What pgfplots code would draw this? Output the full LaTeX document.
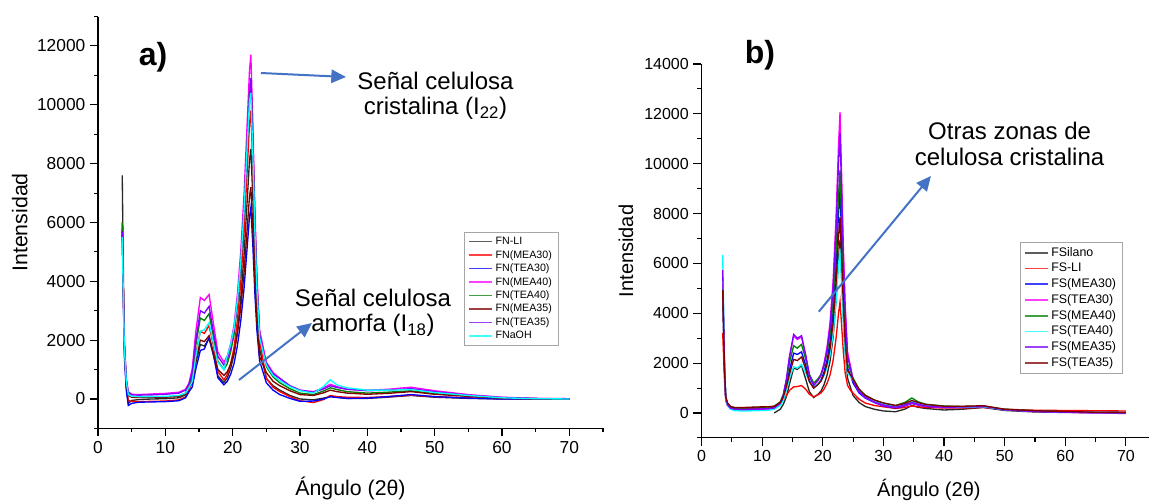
\documentclass[border=0pt]{standalone}
\usepackage{pgfplots}
\pgfplotsset{compat=1.18}
\usepackage{pgfplotstable}
\usepackage{fontspec}
\setmainfont{Liberation Sans}
\usetikzlibrary{arrows.meta}

\definecolor{cLI}{RGB}{40,40,40}
\definecolor{cRed}{RGB}{255,0,0}
\definecolor{cBlue}{RGB}{0,0,255}
\definecolor{cMag}{RGB}{255,0,255}
\definecolor{cGreen}{RGB}{0,128,0}
\definecolor{cWine}{RGB}{128,0,0}
\definecolor{cViolet}{RGB}{128,0,255}
\definecolor{cCyan}{RGB}{0,255,255}
\definecolor{arrowblue}{RGB}{68,114,196}

% panel a) fibras naturales
\pgfplotstableread{
x     LI    M30   T30   M40   T40   M35   T35   NaOH
3.6   7600  6000  5800  5600  6000  5700  5700  5500
3.9   1800  1900  1500  2000  1900  1800  2000  1800
4.2   400   500   300   700   600   550   650   600
4.5   -150  -50   -220  250   150   120   220   150
5     -50   -80   -150  160   80    60    140   90
6     -20   -90   -110  150   60    50    130   80
8     0     -80   -100  170   60    50    140   80
10    10    -70   -90   190   70    60    160   90
12    40    -30   -60   230   100   90    200   120
13    140   70    40    330   200   190   300   200
13.5  340   270   240   530   400   390   500   380
14    555   690   410   1035  825   600   900   600
14.5  1200  1495  990   2243  1788  1300  1950  1400
15.2  1850  2300  1650  3450  2750  2000  3000  2300
15.8  1800  2230  1700  3350  2670  1950  2920  2350
16.5  2050  2500  2100  3550  2900  2150  3150  2600
17.2  1435  1750  1470  2485  2030  1505  2205  1820
17.8  784   928   723   1595  1285  1003  1450  1240
18.7  560   650   480   1250  1000  800   1150  1000
19.2  719   833   600   1459  1198  928   1345  1470
19.7  1036  1199  841   1877  1594  1184  1735  1846
20.2  1513  1748  1202  2504  2188  1568  2320  2410
20.7  2307  2663  1804  3549  3178  2208  3295  3350
21.2  3418  3944  2647  5012  4564  3104  4660  4666
21.7  4927  5683  3791  7000  6445  4320  6513  6452
22.2  6912  7970  5296  9610  8920  5920  8950  8802
22.5  8103  9343  6199  11178 10405 6880  10413 10118
22.7  8500  9800  6500  11700 10900 7200  10900 10400
23.0  6800  7840  5200  9360  8720  5760  8720  8320
23.3  4675  5390  3575  6435  5995  3960  5995  5720
23.6  3060  3528  2340  4212  3924  2592  3924  3744
24.0  1700  1960  1300  2340  2180  1440  2180  2080
24.5  1200  1330  925   1795  1640  1170  1690  1615
25    700   700   550   1250  1100  900   1200  1150
26    450   400   300   900   750   600   850   800
27    300   250   150   700   550   450   700   620
28.5  120   80    20    450   350   280   450   420
30    0     -60   -80   300   200   150   300   280
32    -30   -120  -70   250   150   120   230   200
33.5  30    -20   0     380   270   210   340   420
34.5  80    120   80    500   380   300   450   650
35.5  60    80    50    420   320   250   390   480
37    20    60    20    330   250   200   330   380
40    20    50    30    300   200   160   280   300
43    60    80    80    330   230   190   300   300
46.5  120   130   150   400   280   250   350   320
50    60    80    80    280   180   160   250   220
55    20    40    30    150   100   90    130   120
60    0     10    0     60    30    30    50    40
65    0     0     0     20    10    10    20    10
70    0     0     0     0     0     0     10    0
}\tabA

% panel b) fibras silanizadas
\pgfplotstableread{
x     Sil   LI    M30   T30   M40   T40   M35   T35
3.5   nan   3200  4900  5200  5000  6340  5740  4930
3.8   nan   1300  1700  1800  1800  2000  1900  1700
4.0   nan   500   600   600   650   600   650   650
4.3   nan   300   330   320   380   300   330   400
4.8   nan   200   200   180   250   150   190   260
5.5   nan   180   150   130   200   90    150   220
7     nan   170   140   120   200   80    140   220
9     nan   190   150   140   220   90    150   240
11    nan   200   170   160   240   110   170   250
12    0     220   200   190   270   150   200   270
13    150   350   350   380   450   300   400   420
13.5  350   500   600   700   750   500   720   650
14    650   700   1100  1300  1300  900   1350  1050
14.5  1150  900   1700  2200  2000  1400  2250  1550
15.2  1800  1050  2400  3100  2700  1850  3150  2150
15.8  1750  1060  2350  2950  2600  1800  3000  2100
16.5  1900  1100  2450  3050  2750  1950  3100  2250
17.2  1350  950   1900  2300  2150  1600  2300  1750
17.8  850   750   1300  1500  1550  1250  1500  1250
18.5  620   650   1000  1100  1200  1050  1100  1000
19.2  746   726   1159  1319  1371  1161  1303  1137
19.7  873   802   1318  1539  1542  1272  1505  1274
20.2  1126  954   1636  1978  1884  1494  1910  1549
20.7  1505  1182  2113  2636  2397  1827  2518  1960
21.2  2074  1524  2829  3623  3167  2327  3430  2578
21.7  3022  2094  4021  5269  4449  3159  4949  3607
22.2  4538  3006  5929  7901  6501  4491  7381  5253
22.6  6182  3994  7996  10754 8724  5934  10014 7037
22.85 6940  4450  8950  12070 9750  6600  11230 7860
23.1  5552  3560  7160  9656  7800  5280  8984  6288
23.4  3817  2448  4923  6639  5363  3630  6177  4323
23.7  2498  1602  3222  4345  3510  2376  4043  2830
24.1  1388  1100  1790  2414  1950  1600  2246  1700
24.6  1000  900   1500  1850  1680  1450  1770  1520
25    700   800   1200  1300  1400  1300  1300  1350
26    420   550   800   850   950   900   850   950
27    260   400   600   620   720   650   630   700
28.5  150   300   420   430   520   460   440   520
30    80    250   280   300   400   350   320   400
32    50    180   200   220   300   250   230   300
33.5  150   220   280   300   420   340   320   380
34.7  300   280   380   400   600   450   420   500
35.7  230   250   320   330   450   380   350   420
37    180   220   260   270   350   300   280   340
40    120   200   220   220   280   250   230   270
43    150   200   220   230   260   240   240   270
46.5  220   220   250   260   280   250   270   290
50    100   150   130   130   150   130   130   150
55    40    110   70    60    90    70    60    90
60    20    100   40    30    50    40    30    60
65    10    90    30    0     20    20    10    30
70    10    80    20    -20   10    10    0     20
}\tabB

\pgfplotsset{
  xrd/.style={
    scale only axis,
    axis x line=bottom, axis y line=left,
    axis line style={-, line width=0.9pt},
    tick align=outside,
    tick style={black, line width=0.8pt},
    major tick length=6pt, minor tick length=3pt,
    xmin=0, xmax=75, ymin=-1000,
    xtick={0,10,...,70}, minor xtick={5,15,...,75},
    scaled y ticks=false, scaled x ticks=false,
    /pgf/number format/assume math mode=true,
    /pgf/number format/set thousands separator={},
    legend cell align=left,
    legend image post style={line width=1.3pt, opacity=0.75},
    every axis plot/.append style={line width=1pt},
  }
}

\begin{document}
\begin{tikzpicture}
\useasboundingbox (0,0) rectangle (861.75pt,375.75pt);

% ---------- a) ----------
\begin{axis}[xrd,
  at={(73.5pt,54.45pt)}, anchor=south west,
  width=378.75pt, height=308.9pt,
  ymax=13000,
  ytick={0,2000,...,12000}, minor ytick={-1000,1000,...,13000},
  ticklabel style={font=\fontsize{13}{15}\selectfont},
  xlabel={Ángulo (2θ)}, ylabel={Intensidad},
  label style={font=\fontsize{16}{18}\selectfont},
  xlabel style={at={(axis description cs:0.5,-0.145)}, anchor=center},
  ylabel style={at={(axis description cs:-0.155,0.5)}, anchor=center},
  legend style={at={(rel axis cs:0.725,0.477)}, anchor=north west,
    draw=gray!70, font=\fontsize{8}{9}\selectfont,
    nodes={text height=6pt, text depth=1.5pt, inner ysep=1.3pt},
    row sep=0pt},
]
\addplot[cLI] table[x=x, y=LI] {\tabA}; \addlegendentry{FN-LI}
\addplot[cRed] table[x=x, y=M30] {\tabA}; \addlegendentry{FN(MEA30)}
\addplot[cBlue] table[x=x, y=T30] {\tabA}; \addlegendentry{FN(TEA30)}
\addplot[cMag] table[x=x, y=M40] {\tabA}; \addlegendentry{FN(MEA40)}
\addplot[cGreen] table[x=x, y=T40] {\tabA}; \addlegendentry{FN(TEA40)}
\addplot[cWine] table[x=x, y=M35] {\tabA}; \addlegendentry{FN(MEA35)}
\addplot[cViolet] table[x=x, y=T35] {\tabA}; \addlegendentry{FN(TEA35)}
\addplot[cCyan] table[x=x, y=NaOH] {\tabA}; \addlegendentry{FNaOH}
\end{axis}

% ---------- b) ----------
\begin{axis}[xrd,
  at={(526.1pt,47.33pt)}, anchor=south west,
  width=341.1pt, height=280.4pt,
  ymax=14000,
  ytick={0,2000,...,14000}, minor ytick={-1000,1000,...,13000},
  ticklabel style={font=\fontsize{12}{14}\selectfont},
  xlabel={Ángulo (2θ)}, ylabel={Intensidad},
  label style={font=\fontsize{15}{17}\selectfont},
  xlabel style={at={(axis description cs:0.5,-0.139)}, anchor=center},
  ylabel style={at={(axis description cs:-0.166,0.5)}, anchor=center},
  legend style={at={(rel axis cs:0.700,0.524)}, anchor=north west,
    draw=gray!70, font=\fontsize{9.3}{11}\selectfont,
    nodes={text height=7pt, text depth=2pt, inner ysep=1.4pt},
    row sep=0pt},
]
\addplot[cLI] table[x=x, y=Sil] {\tabB}; \addlegendentry{FSilano}
\addplot[cRed] table[x=x, y=LI] {\tabB}; \addlegendentry{FS-LI}
\addplot[cBlue] table[x=x, y=M30] {\tabB}; \addlegendentry{FS(MEA30)}
\addplot[cMag] table[x=x, y=T30] {\tabB}; \addlegendentry{FS(TEA30)}
\addplot[cGreen] table[x=x, y=M40] {\tabB}; \addlegendentry{FS(MEA40)}
\addplot[cCyan] table[x=x, y=T40] {\tabB}; \addlegendentry{FS(TEA40)}
\addplot[cViolet] table[x=x, y=M35] {\tabB}; \addlegendentry{FS(MEA35)}
\addplot[cWine] table[x=x, y=T35] {\tabB}; \addlegendentry{FS(TEA35)}
\end{axis}

% annotations
\node[font=\fontsize{24}{26}\selectfont\bfseries] at (114.75pt,333pt) {a)};
\node[font=\fontsize{24}{26}\selectfont\bfseries] at (570pt,334.5pt) {b)};

\node[font=\fontsize{18}{20}\selectfont] at (326.6pt,315pt) {Señal celulosa};
\node[font=\fontsize{18}{20}\selectfont] at (326.6pt,294.75pt) {cristalina (I\textsubscript{22})};
\node[font=\fontsize{18}{20}\selectfont] at (279.75pt,152.25pt) {Señal celulosa};
\node[font=\fontsize{18}{20}\selectfont] at (279.75pt,132pt) {amorfa (I\textsubscript{18})};
\node[font=\fontsize{18}{20}\selectfont] at (757.2pt,277.7pt) {Otras zonas de};
\node[font=\fontsize{18}{20}\selectfont] at (757.2pt,257.8pt) {celulosa cristalina};

\begin{scope}[arrowblue, line width=1.5pt, -{Triangle[length=11pt,width=10pt]}]
\draw (195.75pt,321pt) -- (259.5pt,318pt);
\draw (179.25pt,90.75pt) -- (234pt,133.5pt);
\draw (614.1pt,142pt) -- (698.2pt,243.75pt);
\end{scope}
\end{tikzpicture}
\end{document}
